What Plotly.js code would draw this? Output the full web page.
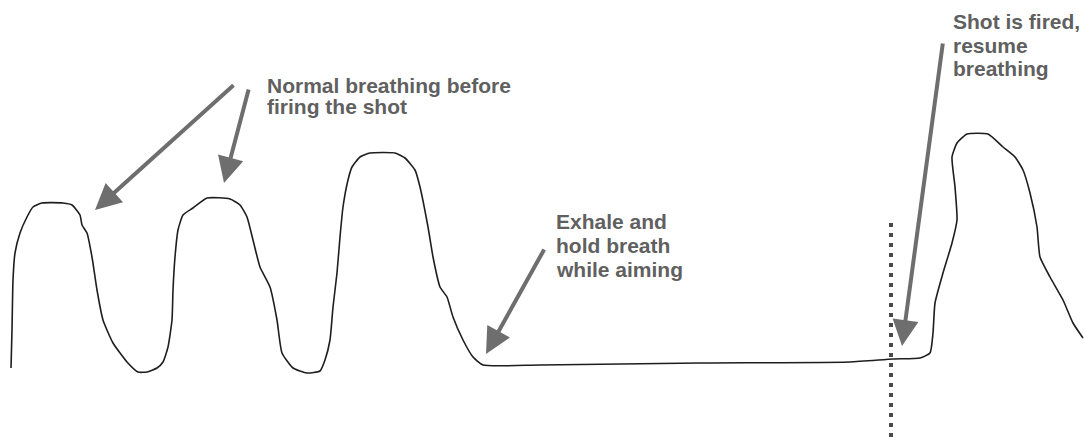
<!DOCTYPE html>
<html><head><meta charset="utf-8">
<script src="https://cdn.plot.ly/plotly-3.0.1.min.js"></script>
<style>html,body{margin:0;padding:0;background:#fff}#chart{width:1084px;height:443px}</style>
</head><body><div id="chart"></div>
<script>
// Breathing trace (pixel-like units: x right, y down)
const curveX = [11,12,13,15,20,27,33,42,63,72,80,82,87,92,97,103,113,127,138,147,157,163,168,172,173,175,178,183,193,207,230,240,247,253,260,270,277,282,293,307,320,325,330,333,337,340,343,348,352,360,370,395,405,415,420,428,433,440,447,453,463,473,483,540,700,850,893,920,930,933,935,943,952,957,955,952,957,967,988,1003,1015,1023,1030,1037,1040,1050,1063,1073,1083];
const curveY = [368,330,280,253,233,217,207,203,203,205,215,225,233,257,290,320,343,362,372,372,368,362,347,320,290,257,230,215,208,198,199,205,217,240,267,287,320,353,368,373,371,360,340,307,273,237,207,180,167,157,153,153,158,170,187,227,257,287,297,317,340,357,365,365,363,362,359,358,353,333,303,273,243,220,187,157,143,134,134,147,157,170,193,227,257,277,300,323,338];

// Moment the shot is fired (dotted marker)
const shotX = [891, 891];
const shotY = [223, 443];

// Arrows: tail (ax, ay) -> tip (x, y)
const arrowTailX = [235, 249, 545, 943];
const arrowTailY = [84, 88, 248, 42];
const arrowTipX  = [95, 224, 486, 902];
const arrowTipY  = [210, 183, 354, 346];

// Labels, one entry per text line
const labelLines = ["Normal breathing before", "firing the shot",
                    "Exhale and", "hold breath", "while aiming",
                    "Shot is fired,", "resume", "breathing"];
const labelX = [265, 265, 554, 554, 554, 951, 951, 951];
const labelY = [72, 93, 208, 232, 256, 8, 32, 55];

const traces = [
  {x: curveX, y: curveY, mode: 'lines', line: {color: '#1e1e1e', width: 1.6, shape: 'spline', smoothing: 0.5}, hoverinfo: 'skip'},
  {x: shotX, y: shotY, mode: 'lines', line: {color: '#4a4a4a', width: 4, dash: '4px,6px'}, hoverinfo: 'skip'}
];

const annotations = [];
for (let i = 0; i < arrowTipX.length; i++) {
  annotations.push({
    x: arrowTipX[i], y: arrowTipY[i], ax: arrowTailX[i], ay: arrowTailY[i],
    xref: 'x', yref: 'y', axref: 'x', ayref: 'y',
    text: '', showarrow: true, arrowhead: 2, arrowsize: 1.3, arrowwidth: 4, arrowcolor: '#6e6e6e'
  });
}
for (let i = 0; i < labelLines.length; i++) {
  annotations.push({
    x: labelX[i], y: labelY[i], xref: 'x', yref: 'y', xanchor: 'left', yanchor: 'top', align: 'left',
    text: labelLines[i], showarrow: false,
    font: {family: 'Arial, "Liberation Sans", sans-serif', size: 21, color: '#606060', weight: 'bold'}
  });
}

const layout = {
  width: 1084, height: 443,
  margin: {l: 0, r: 0, t: 0, b: 0},
  paper_bgcolor: '#ffffff', plot_bgcolor: '#ffffff',
  showlegend: false,
  xaxis: {range: [0, 1084], visible: false, fixedrange: true},
  yaxis: {range: [443, 0], visible: false, fixedrange: true},
  annotations: annotations
};
Plotly.newPlot('chart', traces, layout, {displayModeBar: false, staticPlot: true});
</script>
</body></html>
